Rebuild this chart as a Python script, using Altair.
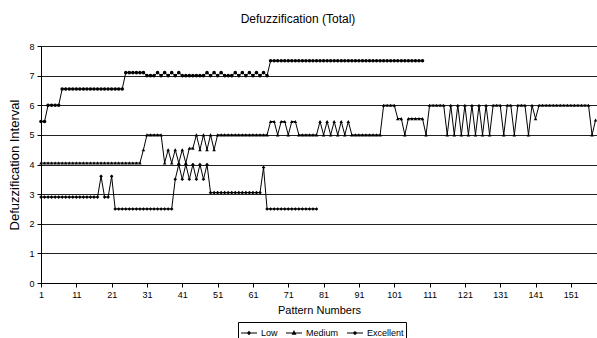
import altair as alt
import pandas as pd

series_names = ["Low", "Medium", "Excellent"]

low = (
    [2.9] * 17
    + [3.6, 2.9, 2.9, 3.6]
    + [2.5] * 17
    + [3.5, 4.0, 3.5, 4.0, 3.5, 4.0, 3.5, 4.0, 3.5, 4.0]
    + [3.05] * 15
    + [3.9]
    + [2.5] * 15
)

medium = (
    [4.05] * 29
    + [4.5]
    + [5.0] * 5
    + [4.05, 4.5, 4.05, 4.5, 4.05, 4.5, 4.05]
    + [4.55, 4.55]
    + [5.0, 4.5, 5.0, 4.5, 5.0, 4.5]
    + [5.0] * 15
    + [5.45, 5.45, 5.0, 5.45, 5.45, 5.0, 5.45, 5.45]
    + [5.0] * 6
    + [5.45, 5.0, 5.45, 5.0, 5.45, 5.0, 5.45, 5.0, 5.45]
    + [5.0] * 9
    + [6.0] * 4
    + [5.55, 5.55]
    + [5.0]
    + [5.55] * 5
    + [5.0]
    + [6.0] * 5
    + [5.0, 6.0, 5.0, 6.0, 5.0, 6.0, 5.0, 6.0, 5.0, 6.0, 5.0, 6.0, 5.0]
    + [6.0] * 3
    + [5.0]
    + [6.0, 6.0]
    + [5.0]
    + [6.0] * 3
    + [5.0]
    + [6.0]
    + [5.55]
    + [6.0] * 15
    + [5.0]
    + [5.5]
)

excellent = (
    [5.45] * 2
    + [6.0] * 4
    + [6.55] * 18
    + [7.1] * 6
    + [7.0, 7.0, 7.0, 7.1, 7.0, 7.1, 7.0, 7.1, 7.0, 7.1]
    + [7.0] * 7
    + [7.1, 7.0, 7.1, 7.0, 7.1, 7.0, 7.0, 7.0, 7.1, 7.0, 7.1, 7.0, 7.1, 7.0, 7.1, 7.0, 7.1, 7.0]
    + [7.5] * 44
)

x_tick_values = [1, 11, 21, 31, 41, 51, 61, 71, 81, 91, 101, 111, 121, 131, 141, 151]
y_tick_values = [0, 1, 2, 3, 4, 5, 6, 7, 8]

marker_shapes = ["diamond", "triangle-up", "circle"]
legend_shapes = [
    "M-1,0L1,0M0,-0.18L0.18,0L0,0.18L-0.18,0Z",
    "M-1,0L1,0M0,-0.2L0.18,0.14L-0.18,0.14Z",
    "M-1,0L1,0M-0.14,0A0.14,0.14,0,1,0,0.14,0A0.14,0.14,0,1,0,-0.14,0Z",
]

rows = []
for name, vals in zip(series_names, [low, medium, excellent]):
    for i, v in enumerate(vals):
        rows.append({"pattern": i + 1, "value": v, "series": name})
df = pd.DataFrame(rows)

FONT = "Liberation Sans"

x_enc = alt.X(
    "pattern:Q",
    scale=alt.Scale(domain=[1, 158.4], nice=False, zero=False),
    axis=alt.Axis(
        values=x_tick_values,
        title="Pattern Numbers",
        grid=False,
        labelFont=FONT,
        labelFontSize=9,
        labelColor="black",
        labelPadding=3,
        tickSize=4,
        tickColor="black",
        domainColor="black",
        titleFont=FONT,
        titleFontSize=11,
        titleFontWeight="normal",
        titleColor="black",
        titlePadding=5,
        labelFlush=False,
    ),
)

y_enc = alt.Y(
    "value:Q",
    scale=alt.Scale(domain=[0, 8], nice=False, zero=True),
    axis=alt.Axis(
        values=y_tick_values,
        title="Defuzzification Interval",
        grid=True,
        gridColor="#222222",
        gridWidth=1,
        labelFont=FONT,
        labelFontSize=9,
        labelColor="black",
        labelPadding=3,
        tickSize=4,
        tickColor="black",
        domainColor="black",
        titleFont=FONT,
        titleFontSize=13,
        titleFontWeight="normal",
        titleColor="black",
        titlePadding=7,
    ),
)

lines = alt.Chart(df).mark_line(color="black", strokeWidth=1).encode(
    x=x_enc,
    y=y_enc,
    detail="series:N",
    order="pattern:Q",
)

points = alt.Chart(df).mark_point(filled=True, color="black", size=13, opacity=1).encode(
    x=x_enc,
    y=y_enc,
    shape=alt.Shape(
        "series:N",
        scale=alt.Scale(domain=series_names, range=marker_shapes),
        legend=None,
    ),
)

legend_layer = (
    alt.Chart(df)
    .transform_filter("datum.pattern < 0")
    .mark_point(filled=False, color="black", strokeWidth=1.2, opacity=1)
    .encode(
        shape=alt.Shape(
            "series:N",
            scale=alt.Scale(domain=series_names, range=legend_shapes),
            legend=alt.Legend(
                title=None,
                orient="none",
                legendX=197,
                legendY=276,
                direction="horizontal",
                columns=3,
                padding=2,
                strokeColor="black",
                cornerRadius=0,
                symbolSize=256,
                symbolStrokeWidth=1.2,
                symbolStrokeColor="black",
                symbolFillColor="black",
                symbolOpacity=1,
                labelFont=FONT,
                labelFontSize=9,
                labelColor="black",
                labelOffset=3,
                columnPadding=5,
            ),
        )
    )
)

chart = (
    alt.layer(lines, points, legend_layer)
    .resolve_scale(shape="independent")
    .properties(
        width=556,
        height=237,
        title=alt.TitleParams(
            "Defuzzification (Total)",
            font=FONT,
            fontSize=12,
            fontWeight="normal",
            color="black",
            anchor="middle",
            frame="group",
            baseline="alphabetic",
            offset=7,
            dx=-21,
        ),
        autosize=alt.AutoSizeParams(type="none"),
        padding={"left": 41, "top": 46, "right": 0, "bottom": 55},
    )
    .configure_view(stroke=None)
    .configure(background="white")
)

chart.save("out.html", embed_options={"renderer": "svg", "actions": False})
